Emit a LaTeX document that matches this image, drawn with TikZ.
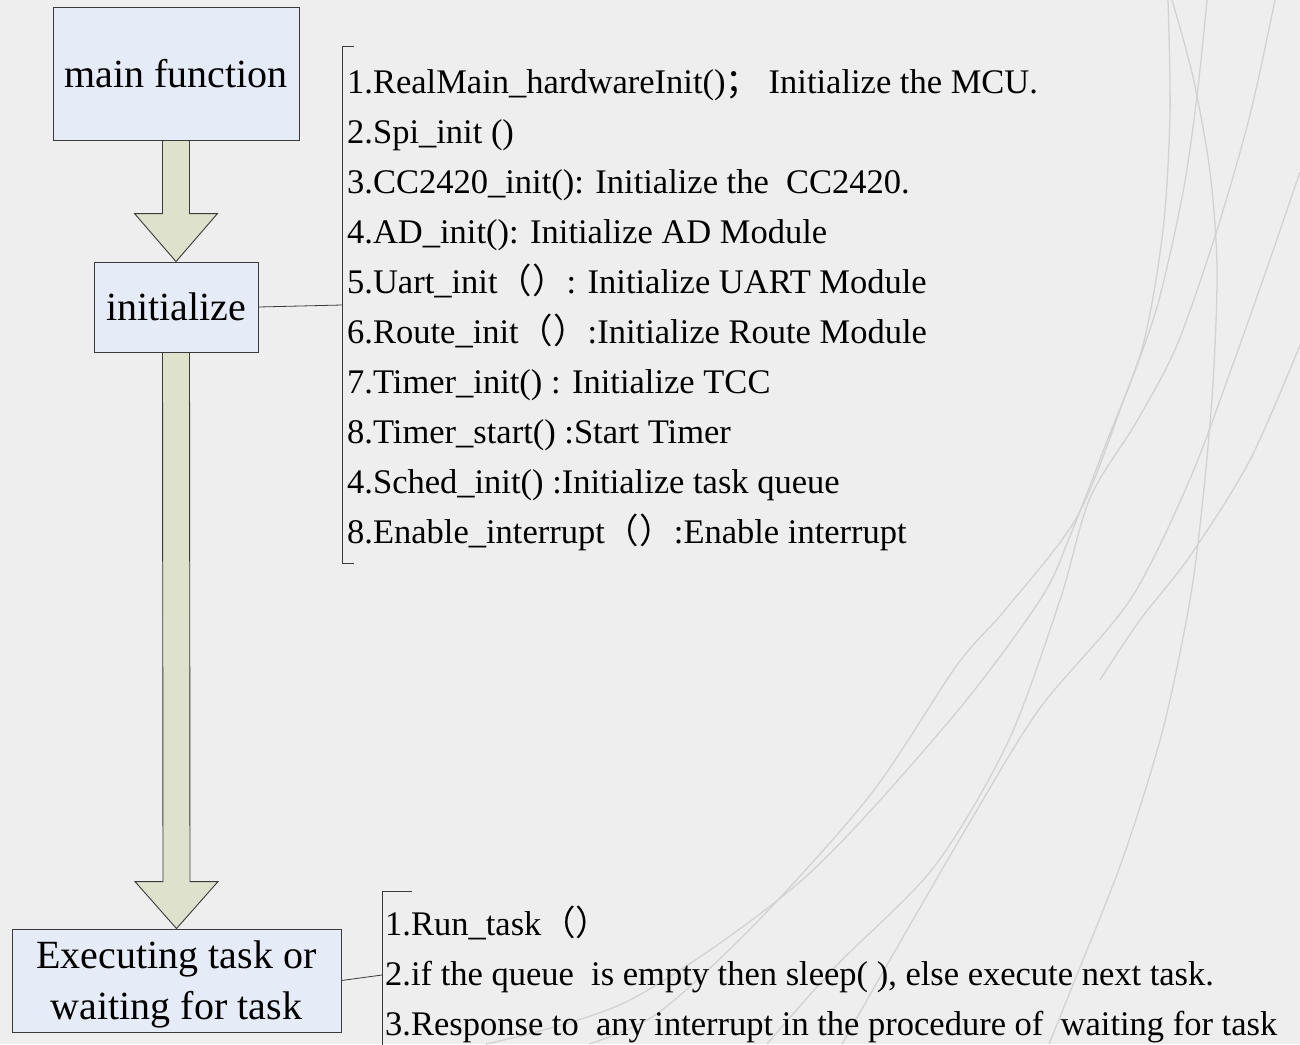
\documentclass[tikz,border=0pt]{standalone}
\usepackage{fontspec}
\setmainfont{Liberation Serif}
\newfontfamily\cjk{Noto Sans CJK SC}
\usetikzlibrary{calc}
\definecolor{bgc}{HTML}{EEEEEE}
\definecolor{boxfill}{HTML}{E6ECF7}
\definecolor{arrfill}{HTML}{DEE1CB}
\definecolor{edgec}{HTML}{3A3A3A}
\definecolor{curvec}{HTML}{D2D2D2}
\tikzset{
  box/.style={draw=edgec, line width=0.9pt, fill=boxfill, inner sep=0pt, text depth=0pt, align=center, font=\fontsize{40}{51}\selectfont},
  blockarrow/.style={draw=edgec, line width=0.9pt, fill=arrfill, line join=miter},
  bracketline/.style={draw=edgec, line width=0.8pt},
  item/.style={anchor=base west, inner sep=0pt, font=\fontsize{34.5}{50}\selectfont},
  bgcurve/.style={draw=curvec, line width=1.3pt}
}
\begin{document}
\begin{tikzpicture}[x=1pt, y=-1pt]
\fill[bgc] (0,0) rectangle (1300,1044);
\useasboundingbox (0,0) rectangle (1300,1044);
% faint background curves
\draw[bgcurve] plot[smooth] coordinates {(1207,0) (1197,96) (1183,192) (1157,307) (1123,402) (1077,517) (1005,610) (957,665) (871,794) (756,923) (658,1013) (589,1044)};
\draw[bgcurve] plot[smooth] coordinates {(1275,0) (1250,115) (1217,230) (1177,345) (1137,421) (1090,498) (1060,600) (1008,742) (934,867) (836,966) (767,1044)};
\draw[bgcurve] plot[smooth] coordinates {(1300,172) (1267,268) (1233,364) (1190,479) (1130,600) (1040,708) (974,815) (899,944) (842,1044)};
\draw[bgcurve] plot[smooth] coordinates {(1172,0) (1193,77) (1210,172) (1217,268) (1213,383) (1203,498) (1190,600) (1163,729) (1123,858) (1072,987) (1049,1044)};
\draw[bgcurve] plot[smooth] coordinates {(1168,0) (1170,115) (1163,230) (1143,345) (1107,441) (1070,536) (1040,600) (950,720) (802,880) (630,1000) (486,1044)};
\draw[bgcurve] plot[smooth] coordinates {(1300,345) (1250,460) (1190,556) (1140,620) (1100,680)};

% boxes
\node[box, minimum width=246pt, minimum height=133pt] (main) at (176,73.5) {main function};
\node[box, minimum width=164pt, minimum height=90pt] (init) at (176,307) {initialize};
\node[box, minimum width=329pt, minimum height=103pt] (exec) at (176.5,980.5) {Executing task or\\waiting for task};

% block arrows
\draw[blockarrow] ($(main.south)+(-13.5,0)$) -- ($(init.north)+(-13.5,-48)$) -- ($(init.north)+(-41.5,-48)$)
  -- (init.north) -- ($(init.north)+(41.5,-48)$) -- ($(init.north)+(13.5,-48)$) -- ($(main.south)+(13.5,0)$) -- cycle;
\draw[blockarrow] ($(init.south)+(-13.5,0)$) -- ($(exec.north)+(-13.5,-47)$) -- ($(exec.north)+(-41.5,-47)$)
  -- (exec.north) -- ($(exec.north)+(41.5,-47)$) -- ($(exec.north)+(13.5,-47)$) -- ($(init.south)+(13.5,0)$) -- cycle;

% bracket 1
\coordinate (b1top) at (342,46);
\coordinate (b1bot) at (342,563);
\coordinate (b1mid) at (342,305);
\draw[bracketline] ($(b1top)+(12,0)$) -- (b1top) -- (b1bot) -- ($(b1bot)+(12,0)$);
\draw[bracketline] (init.east) -- (b1mid);

% bracket 2
\coordinate (b2top) at (382,891);
\coordinate (b2bot) at (382,1050);
\coordinate (b2mid) at (382,975);
\draw[bracketline] ($(b2top)+(30,0)$) -- (b2top) -- (b2bot);
\draw[bracketline] (exec.east) -- (b2mid);

% list 1
\node[item] (l1) at (347,93) {1.RealMain\_hardwareInit(){\cjk ；} Initialize the MCU.};
\node[item] (l2) at (347,143) {2.Spi\_init ()};
\node[item] (l3) at (347,193) {3.CC2420\_init(): Initialize the\ \ CC2420.};
\node[item] (l4) at (347,243) {4.AD\_init(): Initialize AD Module};
\node[item] (l5) at (347,293) {5.Uart\_init{\cjk （）}: Initialize UART Module};
\node[item] (l6) at (347,343) {6.Route\_init{\cjk （）}:Initialize Route Module};
\node[item] (l7) at (347,393) {7.Timer\_init() : Initialize TCC};
\node[item] (l8) at (347,443) {8.Timer\_start() :Start Timer};
\node[item] (l9) at (347,493) {4.Sched\_init() :Initialize task queue};
\node[item] (l10) at (347,543) {8.Enable\_interrupt{\cjk （）}:Enable interrupt};

% list 2
\node[item] (m1) at (385,935) {1.Run\_task{\cjk （）}};
\node[item] (m2) at (385,985) {2.if the queue\ \ is empty then sleep( ), else execute next task.};
\node[item] (m3) at (385,1035) {3.Response to\ \ any interrupt in the procedure of\ \ waiting for task};
\end{tikzpicture}
\end{document}
